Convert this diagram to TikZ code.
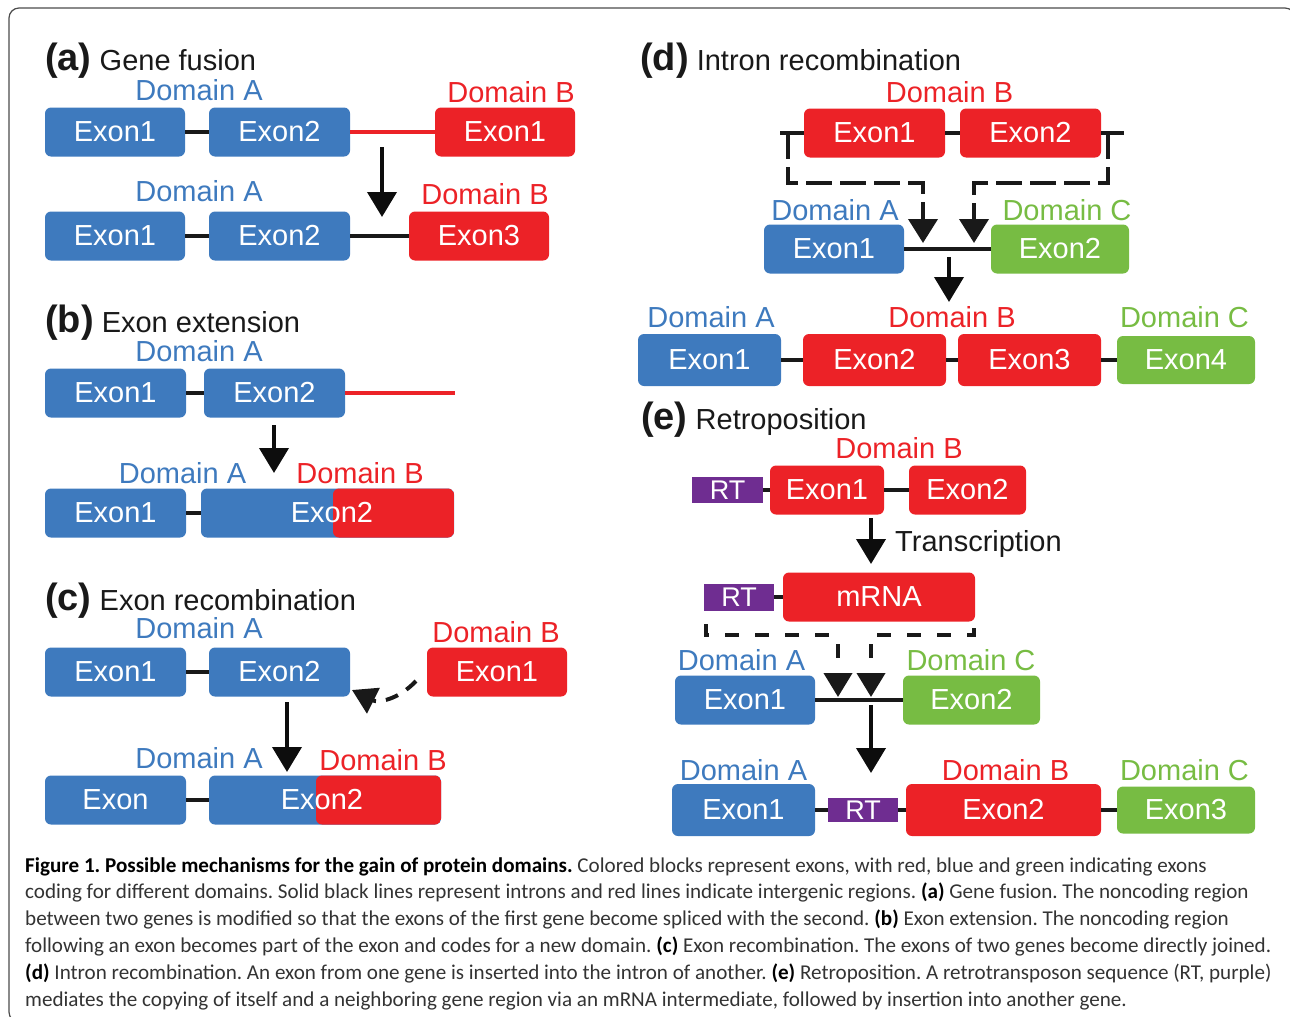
\documentclass[tikz,border=0pt]{standalone}
\usepackage{fontspec}
\setmainfont{Liberation Sans}
\newfontfamily\capfont{Carlito}
\usetikzlibrary{arrows.meta}

\definecolor{domA}{RGB}{62,122,190}
\definecolor{domB}{RGB}{236,34,39}
\definecolor{domC}{RGB}{119,188,67}
\definecolor{rtcol}{RGB}{111,45,145}

\newcommand{\figfont}{\fontsize{29}{34}\selectfont}
\newcommand{\plabel}[1]{{\fontsize{38}{44}\selectfont\bfseries(#1)}}

\tikzset{
  exon/.style={rounded corners=6pt, minimum width=140pt, minimum height=49pt, inner sep=0pt, text=white, font=\figfont},
  exonA/.style={exon, fill=domA},
  exonB/.style={exon, fill=domB},
  exonC/.style={exon, fill=domC},
  exontext/.style={text=white, font=\figfont},
  rtbox/.style={fill=rtcol, minimum width=71pt, minimum height=26pt, inner sep=0pt, text=white, font=\fontsize{27}{30}\selectfont},
  dom/.style={anchor=base, font=\figfont},
  paneltitle/.style={anchor=base west, font=\figfont, text=black!90, inner sep=0pt},
  intron/.style={line width=4pt, black!90},
  intergenic/.style={line width=4pt, domB},
  evolve/.style={line width=4pt, black!95, -{Triangle[width=29pt,length=25pt]}},
  insertarrow/.style={line width=4pt, black!90, dash pattern=on 26pt off 8pt, -{Triangle[width=29pt,length=24pt]}},
  bracket/.style={line width=4pt, black!90, dash pattern=on 14pt off 16pt},
  retroarrow/.style={line width=4pt, black!90, dash pattern=on 14pt off 15pt, -{Triangle[width=28pt,length=24pt]}},
  caption/.style={anchor=north west, align=left, inner sep=0pt, text=black!80, font=\capfont\fontsize{21.1}{26.8}\selectfont\frenchspacing},
}

\begin{document}
\begin{tikzpicture}[x=1pt, y=-1pt]

\useasboundingbox (0,0) rectangle (1290,1017);
\clip (0,0) rectangle (1290,1017);
\draw[black!70, line width=1.2pt, rounded corners=10pt] (9,8) rectangle (1295,1022);

% (a) gene fusion
\node[paneltitle] (ta) at (45,70) {\plabel{a} Gene fusion};
\node[dom, text=domA] (aLA) at (199,100) {Domain A};
\node[dom, text=domB] (aLB) at (511,102) {Domain B};
\node[exonA] (aA1) at (115,132) {Exon1};
\node[exonA, minimum width=141pt] (aA2) at (279.5,132) {Exon2};
\node[exonB] (aB1) at (505,132) {Exon1};
\draw[intron] (aA1) -- (aA2);
\draw[intergenic] (aA2) -- (aB1);
\coordinate (aS) at (382,147);
\coordinate (aT) at (382,217);
\draw[evolve] (aS) -- (aT);
\node[dom, text=domA] (aLA2) at (199,201) {Domain A};
\node[dom, text=domB] (aLB2) at (485,204) {Domain B};
\node[exonA] (aA1n) at (115,236) {Exon1};
\node[exonA, minimum width=141pt] (aA2n) at (279.5,236) {Exon2};
\node[exonB] (aB3) at (479,236) {Exon3};
\draw[intron] (aA1n) -- (aA2n);
\draw[intron] (aA2n) -- (aB3);

% (b) exon extension
\node[paneltitle] (tb) at (45,332) {\plabel{b} Exon extension};
\node[dom, text=domA] (bLA) at (199,361) {Domain A};
\node[exonA, minimum width=141pt] (bA1) at (115.5,393) {Exon1};
\node[exonA, minimum width=141pt] (bA2) at (274.5,393) {Exon2};
\coordinate (bEnd) at (455,393);
\draw[intron] (bA1) -- (bA2);
\draw[intergenic] (bA2) -- (bEnd);
\coordinate (bS) at (274,425);
\coordinate (bT) at (274,473);
\draw[evolve] (bS) -- (bT);
\node[dom, text=domA] (bLA2) at (182.5,483) {Domain A};
\node[dom, text=domB] (bLB2) at (360,483) {Domain B};
\node[exonA, minimum width=141pt] (bA1n) at (115.5,513) {Exon1};
\node[exonA, minimum width=253pt,
  path picture={\fill[domB] ([xshift=5.5pt]path picture bounding box.north) rectangle (path picture bounding box.south east);},
  label={[exontext, xshift=4.5pt]center:Exon2}] (bA2n) at (327.5,513) {};
\draw[intron] (bA1n) -- (bA2n);

% (c) exon recombination
\node[paneltitle] (tc) at (45,610) {\plabel{c} Exon recombination};
\node[dom, text=domA] (cLA) at (199,638) {Domain A};
\node[dom, text=domB] (cLB) at (496,642) {Domain B};
\node[exonA, minimum width=141pt] (cA1) at (115.5,672) {Exon1};
\node[exonA, minimum width=141pt] (cA2) at (279.5,672) {Exon2};
\node[exonB] (cB1) at (497,672) {Exon1};
\draw[intron] (cA1) -- (cA2);
\coordinate (cS) at (416,681);
\coordinate (cT) at (352,690);
\draw[line width=4pt, black!90, dash pattern=on 13pt off 10pt, -{Triangle[width=28pt,length=24pt]}]
  (cS) .. controls (398,700) and (378,703) .. (cT);
\coordinate (cS2) at (287,702);
\coordinate (cT2) at (287,772);
\draw[evolve] (cS2) -- (cT2);
\node[dom, text=domA] (cLA2) at (199,768) {Domain A};
\node[dom, text=domB] (cLB2) at (383,770) {Domain B};
\node[exonA, minimum width=141pt] (cEx) at (115.5,800) {Exon};
\node[exonA, minimum width=232pt,
  path picture={\fill[domB] ([xshift=-9pt]path picture bounding box.north) rectangle (path picture bounding box.south east);},
  label={[exontext, xshift=-3pt]center:Exon2}] (cA2n) at (325,800) {};
\draw[intron] (cEx) -- (cA2n);

% (d) intron recombination
\node[paneltitle] (td) at (640,70) {\plabel{d} Intron recombination};
\node[dom, text=domB] (dLB) at (949.5,102) {Domain B};
\node[exonB, minimum width=141pt] (dB1) at (874.5,133) {Exon1};
\node[exonB, minimum width=141pt] (dB2) at (1030.5,133) {Exon2};
\coordinate (dL0) at (780,133);
\coordinate (dR0) at (1124,133);
\draw[intron] (dL0) -- (dB1);
\draw[intron] (dB1) -- (dB2);
\draw[intron] (dB2) -- (dR0);
\coordinate (dLj) at (788,133);
\coordinate (dLb) at (923,183);
\coordinate (dLt) at (923,243);
\coordinate (dRj) at (1108,133);
\coordinate (dRb) at (974,183);
\coordinate (dRt) at (974,243);
\draw[insertarrow] (dLj) |- (dLb) -- (dLt);
\draw[insertarrow] (dRj) |- (dRb) -- (dRt);
\node[dom, text=domA] (dLA) at (835,220) {Domain A};
\node[dom, text=domC] (dLC) at (1067,220) {Domain C};
\node[exonA] (dA1) at (834,249) {Exon1};
\node[exonC, minimum width=138pt] (dC2) at (1060,249) {Exon2};
\draw[intron] (dA1) -- (dC2);
\coordinate (dS) at (949,257);
\coordinate (dT) at (949,302);
\draw[evolve] (dS) -- (dT);
\node[dom, text=domA] (dLA2) at (711,327) {Domain A};
\node[dom, text=domB] (dLB2) at (952,327) {Domain B};
\node[dom, text=domC] (dLC2) at (1184.5,327) {Domain C};
\node[exonA, minimum width=143pt, minimum height=52pt] (dA1n) at (709.5,360) {Exon1};
\node[exonB, minimum width=143pt, minimum height=52pt] (dB2n) at (874.5,360) {Exon2};
\node[exonB, minimum width=143pt, minimum height=52pt] (dB3n) at (1029.5,360) {Exon3};
\node[exonC, minimum width=138pt, minimum height=48pt] (dC4) at (1186,360) {Exon4};
\draw[intron] (dA1n) -- (dB2n);
\draw[intron] (dB2n) -- (dB3n);
\draw[intron] (dB3n) -- (dC4);

% (e) retroposition
\node[paneltitle] (te) at (641,429) {\plabel{e} Retroposition};
\node[dom, text=domB] (eLB) at (899,458) {Domain B};
\node[rtbox] (eRT1) at (727.5,490) {RT};
\node[exonB, minimum width=114pt] (eB1) at (827,490) {Exon1};
\node[exonB, minimum width=117pt] (eB2) at (967.5,490) {Exon2};
\draw[intron] (eRT1) -- (eB1);
\draw[intron] (eB1) -- (eB2);
\coordinate (eS) at (871,518);
\coordinate (eT) at (871,564);
\draw[evolve] (eS) -- (eT);
\node[paneltitle] (eTr) at (895,551) {Transcription};
\node[rtbox, minimum width=70pt, minimum height=27pt] (eRT2) at (739,597) {RT};
\node[exonB, minimum width=192pt] (eM) at (879,597) {mRNA};
\draw[intron] (eRT2) -- (eM);
\coordinate (eBrL) at (706,624);
\coordinate (eGapL) at (832,635);
\coordinate (eGapR) at (877,635);
\coordinate (eBrR) at (974,624);
\draw[bracket] (eBrL) |- (eGapL);
\draw[bracket] (eGapR) -| (eBrR);
\coordinate (eDL) at (838,644);
\coordinate (eDLt) at (838,697);
\coordinate (eDR) at (871,644);
\coordinate (eDRt) at (871,697);
\draw[retroarrow] (eDL) -- (eDLt);
\draw[retroarrow] (eDR) -- (eDRt);
\node[dom, text=domA] (eLA) at (741.5,670) {Domain A};
\node[dom, text=domC] (eLC) at (971,670) {Domain C};
\node[exonA] (eA1) at (745,700) {Exon1};
\node[exonC, minimum width=137pt] (eC2) at (971.5,700) {Exon2};
\draw[intron] (eA1) -- (eC2);
\coordinate (eS2) at (871,705);
\coordinate (eT2) at (871,773);
\draw[evolve] (eS2) -- (eT2);
\node[dom, text=domA] (eLA2) at (743.5,780) {Domain A};
\node[dom, text=domB] (eLB2) at (1005.5,780) {Domain B};
\node[dom, text=domC] (eLC2) at (1184.5,780) {Domain C};
\node[exonA, minimum width=143pt, minimum height=52pt] (eA1n) at (743.5,810) {Exon1};
\node[rtbox, minimum width=70pt, minimum height=24pt] (eRT3) at (863,810) {RT};
\node[exonB, minimum width=195pt, minimum height=52pt] (eB2n) at (1003.5,810) {Exon2};
\node[exonC, minimum width=138pt, minimum height=47pt] (eC3) at (1186,810) {Exon3};
\draw[intron] (eA1n) -- (eRT3);
\draw[intron] (eRT3) -- (eB2n);
\draw[intron] (eB2n) -- (eC3);

% caption
\node[caption] (cap) at (25,857) {%
{\bfseries\color{black}Figure 1. Possible mechanisms for the gain of protein domains.} Colored blocks represent exons, with red, blue and green indicating exons\\
coding for different domains. Solid black lines represent introns and red lines indicate intergenic regions. {\bfseries\color{black}(a)} Gene fusion. The noncoding region\\
between two genes is modified so that the exons of the first gene become spliced with the second. {\bfseries\color{black}(b)} Exon extension. The noncoding region\\
following an exon becomes part of the exon and codes for a new domain. {\bfseries\color{black}(c)} Exon recombination. The exons of two genes become directly joined.\\
{\bfseries\color{black}(d)} Intron recombination. An exon from one gene is inserted into the intron of another. {\bfseries\color{black}(e)} Retroposition. A retrotransposon sequence (RT, purple)\\
mediates the copying of itself and a neighboring gene region via an mRNA intermediate, followed by insertion into another gene.};

\end{tikzpicture}
\end{document}
